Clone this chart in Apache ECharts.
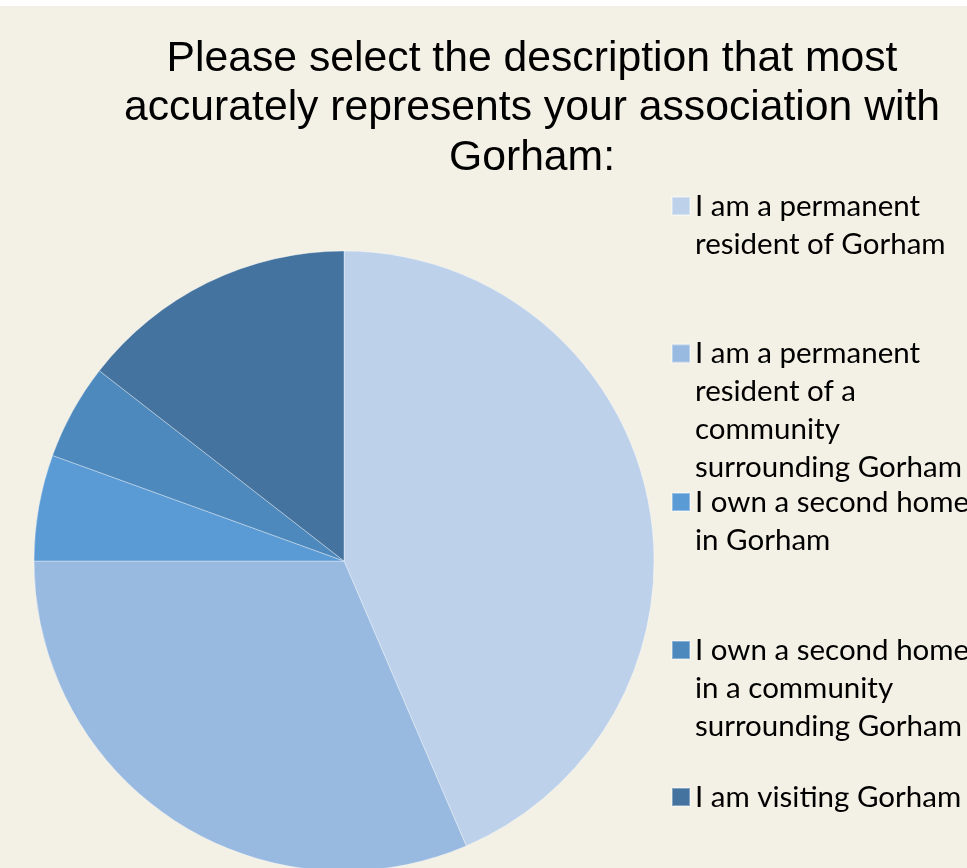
<!DOCTYPE html>
<html>
<head>
<meta charset="utf-8">
<script src="https://cdn.jsdelivr.net/npm/echarts@6/dist/echarts.min.js"></script>
<style>
html,body{margin:0;padding:0;background:#ffffff;}
#chart{position:absolute;left:0;top:6px;width:967px;height:862px;background:#F3F1E6;}
</style>
</head>
<body>
<div id="chart"></div>
<script>
const titleText = "Please select the description that most\naccurately represents your association with\nGorham:";
const categories = [
  "I am a permanent resident of Gorham",
  "I am a permanent resident of a community surrounding Gorham",
  "I own a second home in Gorham",
  "I own a second home in a community surrounding Gorham",
  "I am visiting Gorham"
];
const legendLabels = [
  "I am a permanent\nresident of Gorham",
  "I am a permanent\nresident of a\ncommunity\nsurrounding Gorham",
  "I own a second home\nin Gorham",
  "I own a second home\nin a community\nsurrounding Gorham",
  "I am visiting Gorham"
];
const values = [43.55, 31.45, 5.53, 4.99, 14.48];
const colors = ["#BDD1EA", "#98B9E0", "#5B9BD5", "#4E89BD", "#44739F"];

const LH = 38;
const iconCenters = [200, 347.5, 496, 644, 791];

const legends = categories.map((name, i) => {
  const n = legendLabels[i].split("\n").length;
  const text = " \n".repeat(n - 1) + legendLabels[i];
  return {
    orient: 'vertical',
    left: 671,
    top: iconCenters[i] - (2 * n - 1) * LH / 2,
    padding: 0,
    itemWidth: 18,
    itemHeight: 18,
    icon: 'rect',
    selectedMode: false,
    data: [name],
    formatter: () => text,
    textStyle: {
      fontFamily: 'Lato',
      fontSize: 29.5,
      lineHeight: LH,
      color: '#000000'
    }
  };
});

const chart = echarts.init(document.getElementById('chart'));
chart.setOption({
  backgroundColor: '#F3F1E6',
  animation: false,
  title: {
    text: titleText,
    left: 532,
    top: 28,
    padding: 0,
    textAlign: 'center',
    textStyle: {
      fontFamily: 'Liberation Sans',
      fontSize: 42.7,
      fontWeight: 'normal',
      lineHeight: 49.5,
      color: '#000000'
    }
  },
  legend: legends,
  series: [{
    type: 'pie',
    center: [344, 555],
    radius: [0, 310],
    startAngle: 90,
    clockwise: true,
    label: { show: false },
    labelLine: { show: false },
    itemStyle: { borderColor: 'rgba(255,255,255,0.35)', borderWidth: 1 },
    emphasis: { disabled: true },
    data: categories.map((name, i) => ({
      name: name,
      value: values[i],
      itemStyle: { color: colors[i] }
    }))
  }]
});
</script>
</body>
</html>
